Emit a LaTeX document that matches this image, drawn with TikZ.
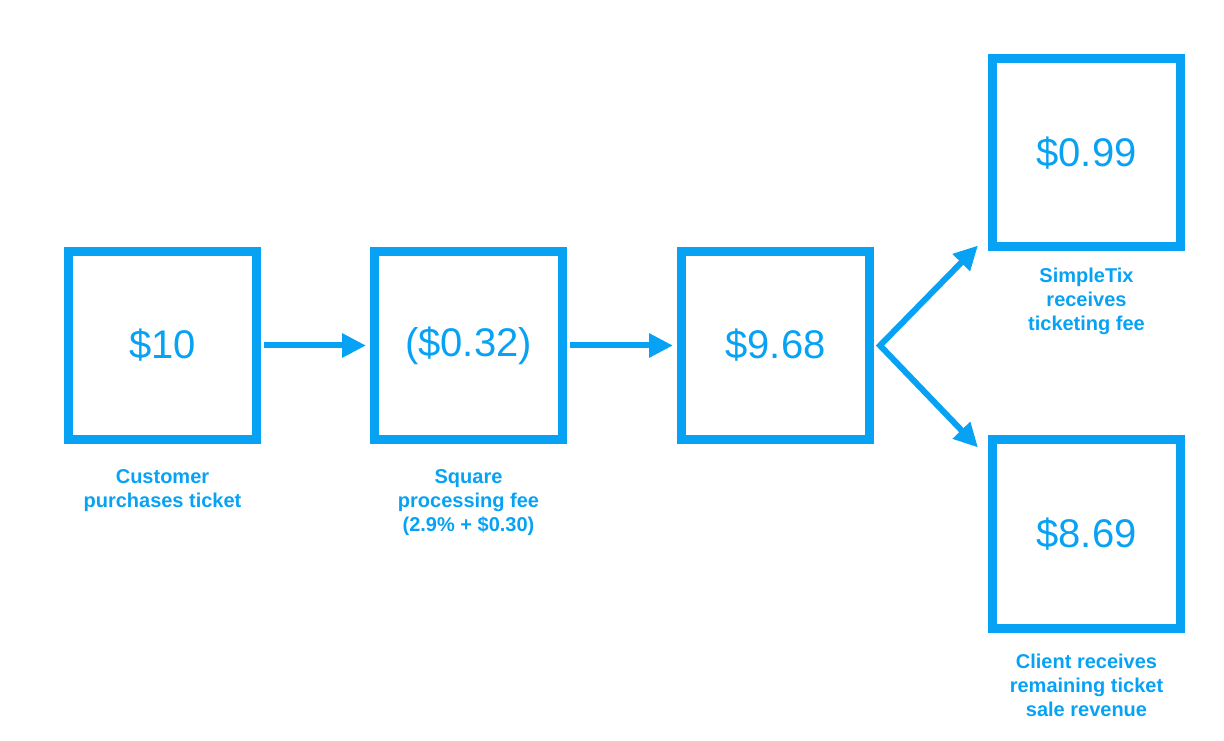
\documentclass[tikz,border=0pt]{standalone}
\usepackage{fontspec}
\setmainfont{Liberation Sans}
\usetikzlibrary{positioning,calc,arrows.meta}
\definecolor{tixblue}{RGB}{8,162,245}
\tikzset{ amount/.style={draw=tixblue,line width=9pt,minimum size=188pt,text=tixblue,font=\fontsize{40}{48}\selectfont},
  caption/.style={text=tixblue,align=center,inner sep=0pt,font=\fontsize{20}{24}\selectfont\bfseries},
  flow/.style={draw=tixblue,line width=6pt,>={Triangle[length=24pt,width=23pt]},->} }

\begin{document}
\begin{tikzpicture}
   \useasboundingbox (0,0) rectangle (1224pt,740pt);
   \node[amount] (buy) at (162.5pt,394.5pt) {\$10};
   \node[amount,right=109pt of buy] (fee) {(\$0.32)};
   \node[amount,right=110pt of fee] (net) {\$9.68};
   \node[amount,right=114pt of net,yshift=192.5pt] (tix) {\$0.99};
   \node[amount,below=184pt of tix] (client) {\$8.69};
   \node[caption,below=25pt of buy] (buytxt) {Customer\\purchases ticket};
   \node[caption,below=25pt of fee] (feetxt) {Square\\processing fee\\(2.9\% + \$0.30)};
   \node[caption,below=16pt of tix] (tixtxt) {SimpleTix\\receives\\ticketing fee};
   \node[caption,below=21pt of client] (clienttxt) {Client receives\\remaining ticket\\sale revenue};
   \coordinate[right=6pt of net] (split);
   \draw[flow] ($(buy.east)+(3pt,0)$) -- ($(fee.west)+(-4pt,0)$);
   \draw[flow] ($(fee.east)+(3pt,0)$) -- ($(net.west)+(-4pt,0)$);
   \draw[flow,<->] ($(tix.south west)+(-10pt,6pt)$) -- (split) -- ($(client.north west)+(-10pt,-12pt)$);
\end{tikzpicture}
\end{document}
